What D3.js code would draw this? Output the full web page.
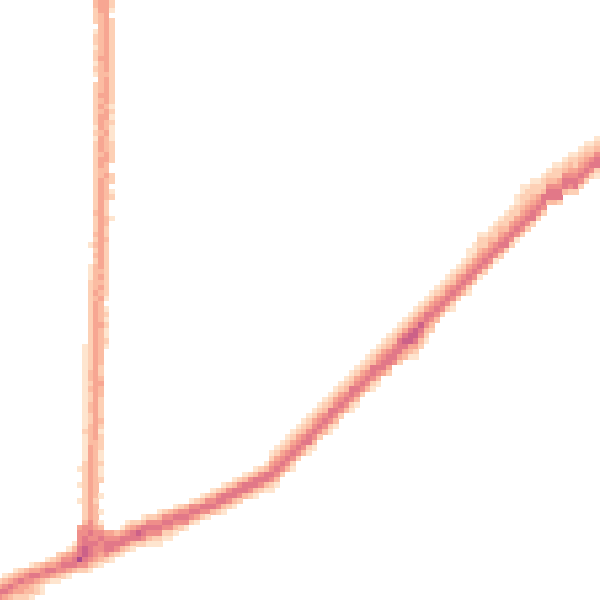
<!DOCTYPE html>
<html><head><meta charset="utf-8">
<script src="https://cdn.jsdelivr.net/npm/d3@7"></script>
<style>html,body{margin:0;padding:0;background:#fff;}svg{display:block;}</style>
</head><body>
<svg id="chart" width="600" height="600"></svg>
<script>
// density levels (1 = lowest, 8 = highest) and their colours
const levels = [1, 2, 3, 4, 5, 6, 7, 8];
const levelColors = ["#fee5cf", "#fdd0b5", "#fbbca2", "#f7a692", "#ef8e8a", "#e27888", "#cc6188", "#aa4a8c"];

// vertical stroke: one entry per grid row (row 0 at top), first filled column + levels
const vStart = [18,18,18,18,18,19,18,18,18,18,18,18,18,18,18,19,18,18,18,18,
  18,18,18,18,18,18,18,18,18,18,18,18,18,18,18,18,18,18,18,18,
  18,18,18,18,18,18,17,18,18,18,17,17,17,17,17,17,17,17,17,17,
  17,17,17,17,17,16,16,16,16,16,16,16,16,16,16,16,16,16,16,16,
  16,16,16,16,16,16,16,16,15,16,16,15,16,16,15,16,16,16,16];
const vLevels = ["3442","3442","2441","234","2342","342","1342","2342","2342","1342",
  "2342","2442","1342","2342","1332","342","2342","2342","2442","2342",
  "2431","2342","2441","2432","1431","2341","1431","2432","2432","2342",
  "2442","243","233","2342","2432","243","2431","2432","242","242",
  "342","2431","243","242","342","243","1342","242","342","242",
  "1342","1332","1342","2332","2342","2432","2341","243","2431","2432",
  "2431","2442","2431","2431","2432","12431","1243","1243","1243","1242",
  "1342","1343","1244","1343","1243","1242","1342","1342","1242","1243",
  "1342","2341","1342","1332","1432","1431","1431","2432","12431","2431",
  "2432","1243","243","2431","1242","243","2431","243","3531"];

// diagonal stroke: one entry per grid column (column 0 at left), first filled row + levels
const dStart = [109,108,108,107,107,107,106,106,106,105,
  105,104,104,103,102,99,99,99,99,99,
  100,100,100,99,98,98,98,97,97,97,
  96,96,96,95,95,95,94,94,93,93,
  92,92,91,91,90,90,89,89,88,88,
  87,85,84,83,82,81,80,79,78,77,
  76,75,74,73,72,71,70,69,68,67,
  66,65,64,63,62,61,60,59,58,57,
  56,55,54,53,52,51,50,49,47,46,
  44,44,43,42,41,40,39,37,35,35,
  34,34,33,32,31,31,30,29,29,28,
  27,27,26,26];
const dLevels = ["2465","13564","24653","135542","246442","355432","1465331","246422","355311","14652",
  "24641","235531","35652","145641","135663","455566852","556677652","565666531","45565542","35655431",
  "456652","456631","35652","146631","135652","246631","25762","136652","256531","256521",
  "1356521","256521","356521","146531","25652","35651","15652","25641","13652","25651",
  "13563","25652","136631","25652","136631","25652","13663","25652","136631","25652",
  "136631","12456521","12456531","1245652","1235653","12456521","1245652","1235653","12356621","12456531",
  "1245652","1235653","12366521","12456531","1245652","1235653","12366521","12456531","1245652","1235653",
  "12366521","12456531","1245664","12356642","1235665","12466642","12467643","124677431","1245776421","124576532",
  "124665321","12456532","1245653","1235652","1245652","12356521","1245652","1235653","112456521","11245652",
  "122345651","12245652","12345652","12235651","12345652","12235662","12245652","112245651","1122345652","122345652",
  "122345662","12245652","12236652","1235663","12235663","12245662","1235663","12345652","12245662","12345652",
  "12345652","1235652","12356621","1235652"];

const N = 113;
const cell = 600 / 112.5;
const x = d3.scaleLinear().domain([0, N]).range([-3.13, -3.13 + N * cell]);
const y = d3.scaleLinear().domain([0, N]).range([-3.13, -3.13 + N * cell]);
const color = d3.scaleOrdinal().domain(levels).range(levelColors);

const grid = new Map();
function put(c, r, v) {
  const k = c + "," + r;
  if (!grid.has(k) || grid.get(k).v < v) grid.set(k, {c, r, v});
}
vLevels.forEach((s, r) => [...s].forEach((ch, i) => put(vStart[r] + i, r, +ch)));
dLevels.forEach((s, c) => [...s].forEach((ch, i) => put(c, dStart[c] + i, +ch)));

const svg = d3.select("#chart");
svg.append("g").attr("shape-rendering", "crispEdges")
  .selectAll("rect").data([...grid.values()]).join("rect")
  .attr("x", d => x(d.c))
  .attr("y", d => y(d.r))
  .attr("width", d => x(d.c + 1) - x(d.c) + 0.3)
  .attr("height", d => y(d.r + 1) - y(d.r) + 0.3)
  .attr("fill", d => color(d.v));
</script>
</body></html>
